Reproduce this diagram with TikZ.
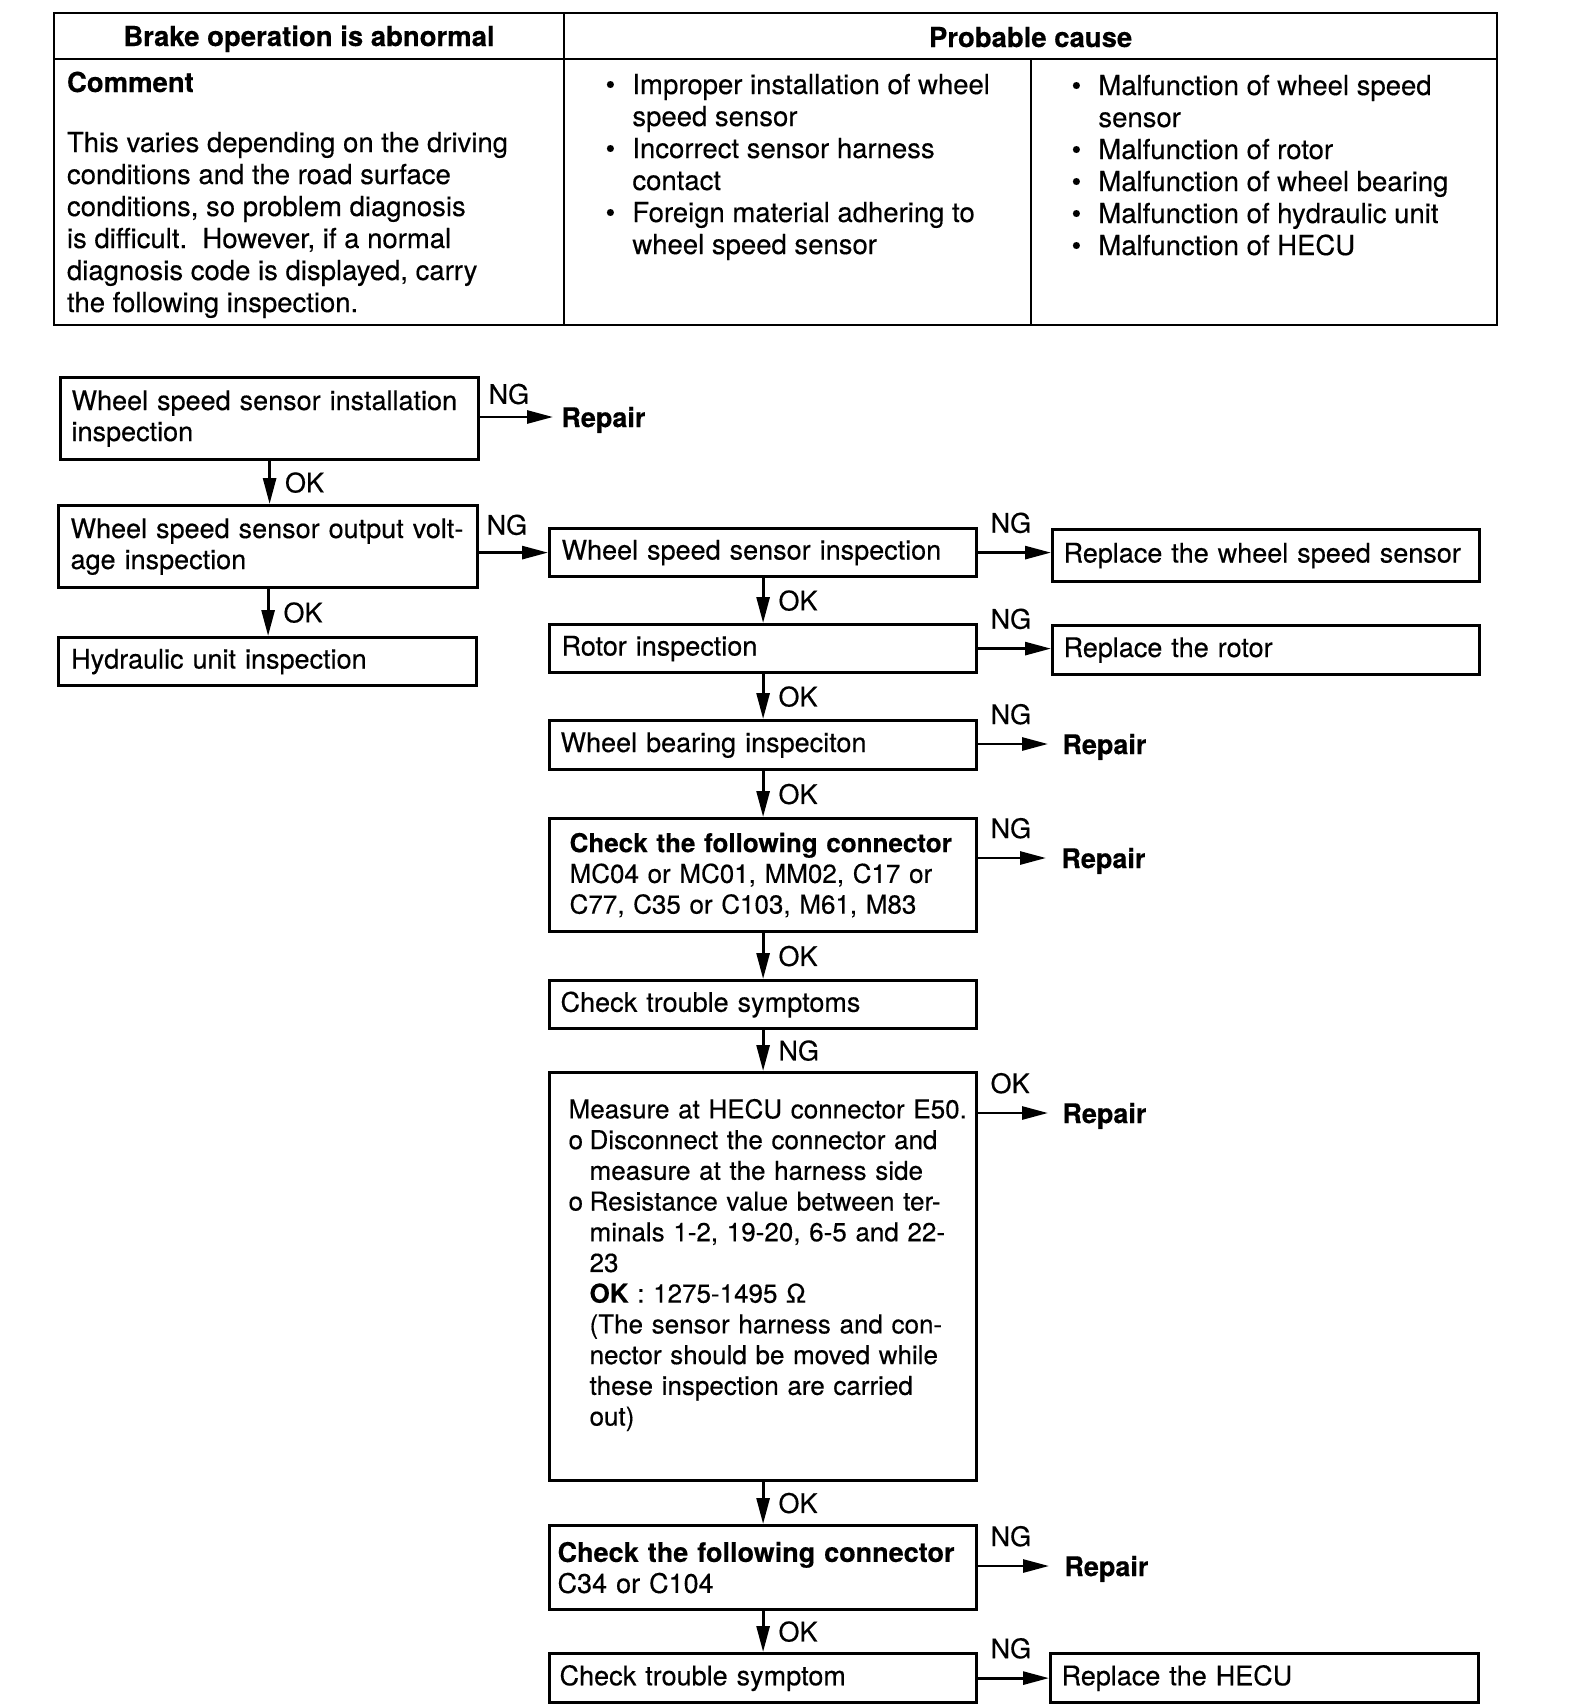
\documentclass[tikz,border=0pt]{standalone}
\usepackage{fontspec}
\setmainfont{TeX Gyre Heros}[UprightFeatures={FakeBold=0.35},BoldFeatures={FakeBold=0.35}]
\usetikzlibrary{arrows.meta}
\newcommand\tfont{\fontsize{13.75}{16}\selectfont}
\newcommand\ffont{\fontsize{13.5}{15.5}\selectfont}
\newcommand\sfont{\fontsize{13}{15.36}\selectfont}
\begin{document}
\begin{tikzpicture}[x=1pt,y=-1pt,
  tbl/.style={line width=1.2pt},
  fb/.style={draw, line width=1.6pt, anchor=north west, inner ysep=0pt, align=left, font=\ffont},
  arr/.style={line width=1.4pt, -{Triangle[length=13pt,width=6.5pt]}},
  lab/.style={font=\ffont, inner sep=0pt},
  hl/.style={lab, anchor=south west, pos=0, xshift=5.5pt, yshift=9pt},
  vl/.style={lab, anchor=west, pos=0.5, xshift=7pt},
  rep/.style={font=\ffont\bfseries, inner ysep=0pt, text depth=0pt, anchor=west},
  cell/.style={font=\tfont, inner sep=0pt, anchor=base west},
]
\fill[white] (0,0) rectangle (792,854);
\useasboundingbox (0,0) rectangle (792,854);

% ---------- table ----------
\draw[tbl] (27,6.5) rectangle (748.5,162.5);
\draw[tbl] (27,29.5) -- (748.5,29.5);
\draw[tbl] (282,6.5) -- (282,162.5);
\draw[tbl] (515.5,29.5) -- (515.5,162.5);

\node[cell, anchor=base, font=\tfont\bfseries] (h1) at (154.5,23) {Brake operation is abnormal};
\node[cell, anchor=base, font=\tfont\bfseries] (h2) at (515.3,23.5) {Probable cause};

\node[cell] (c1) at (33.3,46) {\begin{tabular}[t]{@{}l@{}}
\textbf{Comment}\\[14pt]
This varies depending on the driving\\
conditions and the road surface\\
conditions, so problem diagnosis\\
is difficult.\ \ However, if a normal\\
diagnosis code is displayed, carry\\
the following inspection.
\end{tabular}};

\node[cell] (c2) at (302.6,47) {\begin{tabular}[t]{@{}p{13.4pt}@{}l@{}}
\textbullet & Improper installation of wheel\\
 & speed sensor\\
\textbullet & Incorrect sensor harness\\
 & contact\\
\textbullet & Foreign material adhering to\\
 & wheel speed sensor
\end{tabular}};

\node[cell] (c3) at (535.6,47.5) {\begin{tabular}[t]{@{}p{13.4pt}@{}l@{}}
\textbullet & Malfunction of wheel speed\\
 & sensor\\
\textbullet & Malfunction of rotor\\
\textbullet & Malfunction of wheel bearing\\
\textbullet & Malfunction of hydraulic unit\\
\textbullet & Malfunction of HECU
\end{tabular}};

% ---------- left column ----------
\node[fb, inner xsep=5.5pt, text width=198pt, minimum height=41pt] (A) at (29.5,188)
  {\makebox[196pt][s]{Wheel speed sensor installation}\\inspection};
\node[fb, inner xsep=6pt, text width=197.5pt, minimum height=41pt] (B) at (28.5,252)
  {\makebox[196pt][s]{Wheel speed sensor output volt-}\\age inspection};
\node[fb, inner xsep=6.3pt, text width=196.4pt, minimum height=24pt] (D) at (28.5,318)
  {Hydraulic unit inspection};

% ---------- middle column ----------
\node[fb, inner xsep=6pt, text width=201.5pt, minimum height=24pt] (C) at (274,263.5)
  {Wheel speed sensor inspection};
\node[fb, inner xsep=6pt, text width=201.5pt, minimum height=24pt] (E) at (274,311.5)
  {Rotor inspection};
\node[fb, inner xsep=5.5pt, text width=202.5pt, minimum height=24.5pt] (F) at (274,359.5)
  {Wheel bearing inspeciton};
\node[fb, font=\sfont, inner xsep=10pt, text width=193.5pt, minimum height=56.5pt] (G) at (274,408.5)
  {\mbox{\textbf{Check the following connector}}\\MC04 or MC01, MM02, C17 or\\C77, C35 or C103, M61, M83};
\node[fb, inner xsep=5.5pt, text width=202.5pt, minimum height=24pt] (H) at (274,489.5)
  {Check trouble symptoms};
\node[fb, font=\sfont, inner xsep=9.5pt, text width=194.5pt, minimum height=204pt] (I) at (274,535.5)
  {\mbox{Measure at HECU connector E50.}\\
   \makebox[10.5pt][l]{o}Disconnect the connector and\\
   \hspace*{10.5pt}measure at the harness side\\
   \makebox[10.5pt][l]{o}Resistance value between ter-\\
   \hspace*{10.5pt}minals 1-2, 19-20, 6-5 and 22-\\
   \hspace*{10.5pt}23\\
   \hspace*{10.5pt}\textbf{OK} : 1275-1495 Ω\\
   \hspace*{10.5pt}(The sensor harness and con-\\
   \hspace*{10.5pt}nector should be moved while\\
   \hspace*{10.5pt}these inspection are carried\\
   \hspace*{10.5pt}out)\\[-1pt]\mbox{}};
\node[fb, inner xsep=4pt, text width=205.5pt, minimum height=42pt] (J) at (274,762)
  {\textbf{Check the following connector}\\C34 or C104};
\node[fb, inner xsep=5pt, text width=203.5pt, minimum height=24.5pt] (K) at (274,826)
  {Check trouble symptom};

% ---------- right column ----------
\node[fb, inner xsep=5.5pt, text width=202.5pt, minimum height=26pt] (RWS) at (525.5,264)
  {Replace the wheel speed sensor};
\node[fb, inner xsep=5.5pt, text width=202.5pt, minimum height=24.5pt] (RR) at (525.5,312)
  {Replace the rotor};
\node[fb, inner xsep=5.5pt, text width=203pt, minimum height=24.5pt] (RH) at (524.5,826)
  {Replace the HECU};

% ---------- repair labels ----------
\node[rep, inner xsep=4pt] (rA) at (276.5,208.5) {Repair};
\node[rep, inner xsep=7pt] (rF) at (524,372) {Repair};
\node[rep, inner xsep=7.5pt] (rG) at (523,429) {Repair};
\node[rep, inner xsep=7pt] (rI) at (524,556.5) {Repair};
\node[rep, inner xsep=7.5pt] (rJ) at (524.5,783) {Repair};

% ---------- connectors ----------
\draw[arr] (A.east |- rA.west) -- node[hl, xshift=-2pt, yshift=-3.4pt]{NG} (rA.west);
\draw[arr] (A.south) -- node[vl]{OK} (A.south |- B.north);
\draw[arr] (B.east |- C.west) -- node[hl, xshift=-2.5pt, yshift=-1pt]{NG} (C.west);
\draw[arr] (B.south) -- node[vl]{OK} (B.south |- D.north);

\draw[arr] (C.east) -- node[hl]{NG} (C.east -| RWS.west);
\draw[arr] (C.south) -- node[vl]{OK} (E.north);
\draw[arr] (E.east) -- node[hl]{NG} (E.east -| RR.west);
\draw[arr] (E.south) -- node[vl]{OK} (F.north);
\draw[arr] (F.east |- rF.west) -- node[hl]{NG} (rF.west);
\draw[arr] (F.south) -- node[vl]{OK} (G.north);
\draw[arr] (G.east |- rG.west) -- node[hl]{NG} (rG.west);
\draw[arr] (G.south) -- node[vl]{OK} (H.north);
\draw[arr] (H.south) -- node[vl]{NG} (I.north);
\draw[arr] (I.east |- rI.west) -- node[hl]{OK} (rI.west);
\draw[arr] (I.south) -- node[vl]{OK} (J.north);
\draw[arr] (J.east |- rJ.west) -- node[hl]{NG} (rJ.west);
\draw[arr] (J.south) -- node[vl]{OK} (K.north);
\draw[arr] (K.east) -- node[hl]{NG} (K.east -| RH.west);
\end{tikzpicture}
\end{document}
